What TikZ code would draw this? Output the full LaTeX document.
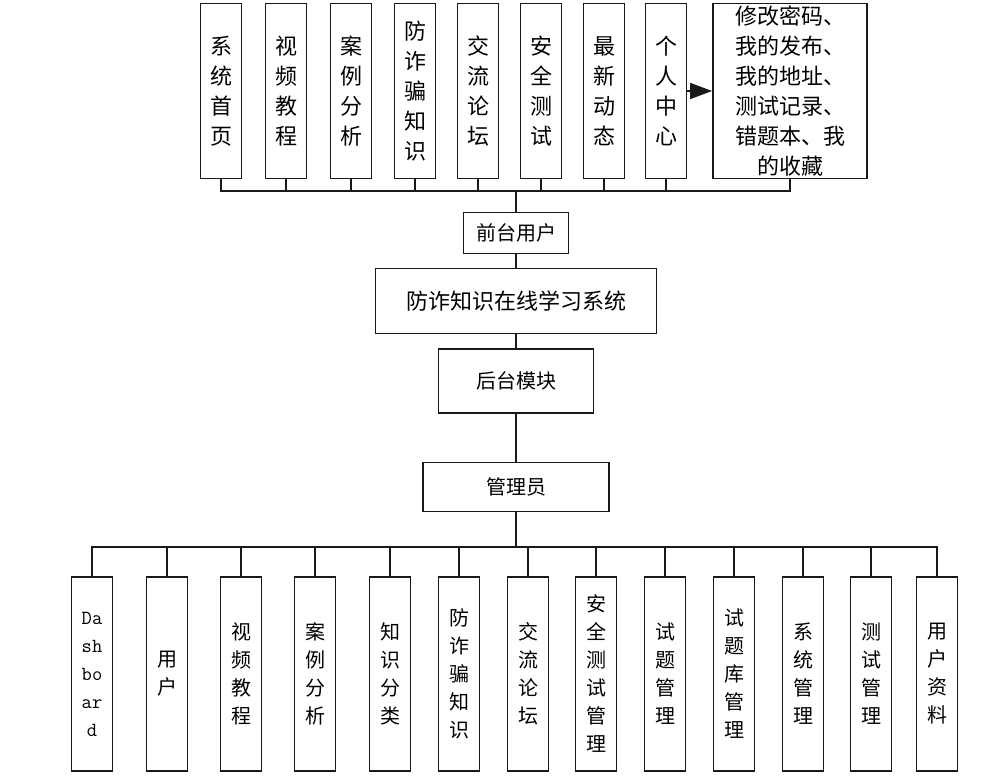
\documentclass[tikz,border=0pt]{standalone}
\usepackage{fontspec}
\newfontfamily\cjk{Noto Sans CJK SC}
\usetikzlibrary{arrows.meta}
\begin{document}
\begin{tikzpicture}[x=1pt,y=-1pt,
  box/.style={draw=black!90, line width=1.8pt, fill=white, inner sep=0pt, align=center},
  topv/.style={box, minimum width=41pt, minimum height=175pt, font=\cjk\fontsize{22}{30}\selectfont},
  botv/.style={box, minimum width=41pt, minimum height=194pt, font=\cjk\fontsize{20}{28}\selectfont},
  midbox/.style={box, font=\cjk\fontsize{20}{24}\selectfont},
  wire/.style={line width=1.8pt, draw=black!90}]
\useasboundingbox (0,0) rectangle (983,779);
% top row
\node[topv] (t1) at (221,91) {系\\统\\首\\页};
\node[topv] (t2) at (286,91) {视\\频\\教\\程};
\node[topv] (t3) at (351,91) {案\\例\\分\\析};
\node[topv] (t4) at (415,91) {防\\诈\\骗\\知\\识};
\node[topv] (t5) at (478,91) {交\\流\\论\\坛};
\node[topv] (t6) at (541,91) {安\\全\\测\\试};
\node[topv] (t7) at (604,91) {最\\新\\动\\态};
\node[topv] (t8) at (666,91) {个\\人\\中\\心};
\node[box, minimum width=154pt, minimum height=175pt, font=\cjk\fontsize{22}{30}\selectfont] (t9) at (790,91)
  {修改密码、\\我的发布、\\我的地址、\\测试记录、\\错题本、我\\的收藏};
\coordinate (tbus) at (516,191);
\draw[wire] (t1.south) -- (t1.south |- tbus) -- (t9.south |- tbus) -- (t9.south);
\foreach \n in {t2,t3,t4,t5,t6,t7,t8}{\draw[wire] (\n.south) -- (\n.south |- tbus);}
\draw[wire, -{Triangle[length=22pt,width=16pt]}] (t8.east) -- (t9.west);
% middle
\node[midbox, minimum width=105pt, minimum height=41pt] (ft) at (516,233) {前台用户};
\node[midbox, minimum width=281pt, minimum height=65pt, font=\cjk\fontsize{22}{26}\selectfont] (sys) at (516,301) {防诈知识在线学习系统};
\node[midbox, minimum width=155pt, minimum height=64pt] (ht) at (516,381) {后台模块};
\node[midbox, minimum width=186pt, minimum height=49pt] (adm) at (516,487) {管理员};
\draw[wire] (ft.north) -- (ft.north |- tbus);
\draw[wire] (ft.south) -- (sys.north);
\draw[wire] (sys.south) -- (ht.north);
\draw[wire] (ht.south) -- (adm.north);
% bottom row
\node[botv, font=\ttfamily\fontsize{20}{28}\selectfont] (b1) at (92,674) {Da\\sh\\bo\\ar\\d};
\node[botv] (b2) at (167,674) {用\\户};
\node[botv] (b3) at (241,674) {视\\频\\教\\程};
\node[botv] (b4) at (315,674) {案\\例\\分\\析};
\node[botv] (b5) at (390,674) {知\\识\\分\\类};
\node[botv] (b6) at (459,674) {防\\诈\\骗\\知\\识};
\node[botv] (b7) at (528,674) {交\\流\\论\\坛};
\node[botv] (b8) at (596,674) {安\\全\\测\\试\\管\\理};
\node[botv] (b9) at (665,674) {试\\题\\管\\理};
\node[botv] (b10) at (734,674) {试\\题\\库\\管\\理};
\node[botv] (b11) at (803,674) {系\\统\\管\\理};
\node[botv] (b12) at (871,674) {测\\试\\管\\理};
\node[botv] (b13) at (937,674) {用\\户\\资\\料};
\coordinate (bbus) at (516,547);
\draw[wire] (adm.south) -- (adm.south |- bbus);
\draw[wire] (b1.north) -- (b1.north |- bbus) -- (b13.north |- bbus) -- (b13.north);
\foreach \n in {b2,b3,b4,b5,b6,b7,b8,b9,b10,b11,b12}{\draw[wire] (\n.north) -- (\n.north |- bbus);}
\end{tikzpicture}
\end{document}
